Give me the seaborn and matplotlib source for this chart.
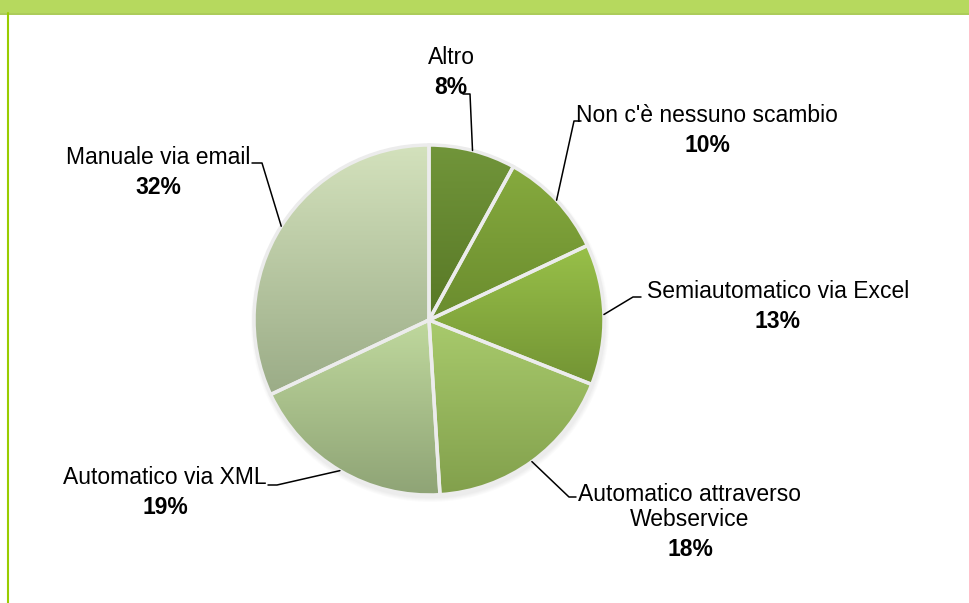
import matplotlib
matplotlib.use("Agg")
from matplotlib import pyplot as plt
from matplotlib.patches import Rectangle
import seaborn as sns
import numpy as np

# Dati del grafico (in senso orario partendo dall'alto)
categorie = ["Altro", "Non c'è nessuno scambio", "Semiautomatico via Excel",
             "Automatico attraverso\nWebservice", "Automatico via XML", "Manuale via email"]
percentuali = [8, 10, 13, 18, 19, 32]
colori_alto = ["#71953a", "#86aa3e", "#98c049", "#a8ca6c", "#bfd89d", "#d3e1bc"]
colori_basso = ["#587826", "#6a8c2e", "#739434", "#82a04c", "#8fa476", "#9bac87"]

# Posizioni delle etichette in pixel (x centro, y centro dell'etichetta)
pos_etichette = [(451, 57), (707, 115), (778, 291), (690, 507), (165, 478), (158, 158)]
pos_percentuali = [(451, 87), (707, 145), (778, 321), (690, 550), (165, 507), (158, 187)]
# inizio del tratto orizzontale della linea guida e gomito
linee_guida = [((463, 94), (470, 94)), ((581, 121), (574, 121)), ((641, 297), (633, 297)),
               ((576, 497), (569, 497)), ((268, 485), (277, 485)), ((252, 163), (262, 163))]

W, H = 970, 603
CX, CY, R = 429, H - 320, 175

sns.set_theme(style="white")
plt.rcParams['font.family'] = ['Liberation Sans', 'DejaVu Sans']

fig = plt.figure(figsize=(9.7, 6.03), dpi=100)
ax = fig.add_axes([0, 0, 1, 1])

# ombra leggera attorno alla torta
for k in range(5):
    ax.add_patch(plt.Circle((CX + 1, CY - 3), R + 4 - k, color="#909090", alpha=0.03, lw=0, zorder=1))

wedges, _ = ax.pie(percentuali, colors=colori_alto, startangle=90, counterclock=False,
                   center=(CX, CY), radius=R,
                   wedgeprops=dict(edgecolor="#ececec", linewidth=2.5, zorder=3))

# riempimento sfumato verticale per ogni fetta
for w, c1, c2 in zip(wedges, colori_alto, colori_basso):
    ext = w.get_path().get_extents()
    grad = np.array(sns.blend_palette([c1, c2], n_colors=64))[:, None, :]
    im = ax.imshow(grad, extent=[ext.x0, ext.x1, ext.y0, ext.y1], origin="upper",
                   aspect="auto", zorder=2, interpolation="bilinear")
    im.set_clip_path(w)
    w.set_facecolor("none")

# etichette e linee guida
for i, w in enumerate(wedges):
    ang = np.deg2rad((w.theta1 + w.theta2) / 2)
    ax_x, ax_y = CX + R * np.cos(ang), CY + R * np.sin(ang)
    (sx, sy), (ex, ey) = linee_guida[i]
    ax.plot([sx, ex, ax_x], [H - sy, H - ey, ax_y], color="black", lw=1.1, zorder=4)
    lx, ly = pos_etichette[i]
    ax.text(lx, H - ly, categorie[i], ha="center", va="center", fontsize=16.5,
            linespacing=1.1, color="black")
    px, py = pos_percentuali[i]
    ax.text(px, H - py, f"{percentuali[i]}%", ha="center", va="center", fontsize=16.5,
            fontweight="bold", color="black")

# cornice: banda verde in alto e linea a sinistra
ax.add_patch(Rectangle((0, H - 13), W, 13, color="#b6d95e", lw=0, zorder=5))
ax.plot([0, W], [H - 13.5, H - 13.5], color="#9cc23a", lw=1.2, zorder=6)
ax.plot([8, 8], [0, H - 13], color="#99cc00", lw=1.5, zorder=6)

ax.set_xlim(0, W)
ax.set_ylim(0, H)
ax.set_aspect("auto")
ax.axis("off")

fig.savefig("out.png", dpi=100)
